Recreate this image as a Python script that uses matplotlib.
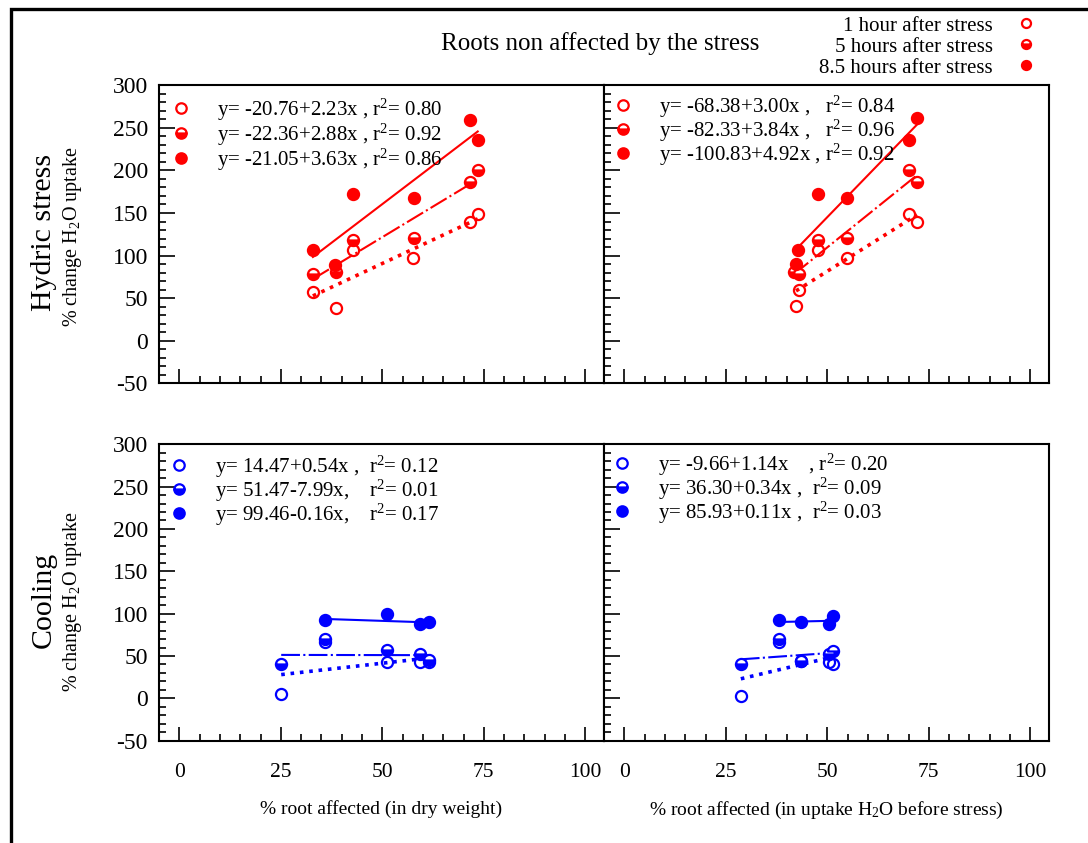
import matplotlib
matplotlib.use("Agg")
import matplotlib.pyplot as plt
import numpy as np
from matplotlib.lines import Line2D
from matplotlib.patches import Rectangle
from matplotlib.ticker import MultipleLocator

plt.rcParams['font.family'] = ['Liberation Serif', 'DejaVu Serif']
plt.rcParams['mathtext.fontset'] = 'custom'
plt.rcParams['mathtext.rm'] = 'Liberation Serif'
plt.rcParams['mathtext.it'] = 'Liberation Serif:italic'
plt.rcParams['mathtext.bf'] = 'Liberation Serif:bold'
plt.rcParams['axes.unicode_minus'] = False

# ---------------- data ----------------
series_names = ["1 hour after stress", "5 hours after stress", "8.5 hours after stress"]

# Hydric stress, x = % root affected (dry weight)
hyd_dw_x_1h = [32.9, 38.5, 42.9, 57.6, 71.5, 73.5]
hyd_dw_y_1h = [57.7, 38.6, 106.6, 97.2, 139.3, 148.7]
hyd_dw_x_5h = [32.9, 38.5, 42.9, 57.7, 71.5, 73.5]
hyd_dw_y_5h = [78.8, 80.3, 118.6, 120.6, 186.2, 200.6]
hyd_dw_x_85h = [32.9, 38.4, 42.9, 57.7, 71.5, 73.5]
hyd_dw_y_85h = [106.9, 88.5, 172.1, 167.4, 259.1, 235.4]
hyd_dw_intercepts = [-20.76, -22.36, -21.05]
hyd_dw_slopes = [2.23, 2.88, 3.63]
hyd_dw_labels = ["y= -20.76+2.23x , r$^{2}$= 0.80",
                 "y= -22.36+2.88x , r$^{2}$= 0.92",
                 "y= -21.05+3.63x , r$^{2}$= 0.86"]

# Hydric stress, x = % root affected (uptake H2O before stress)
hyd_up_x_1h = [43.0, 42.3, 47.8, 54.8, 70.1, 72.1]
hyd_up_y_1h = [60.1, 41.0, 106.6, 97.2, 148.7, 139.3]
hyd_up_x_5h = [41.7, 43.0, 47.8, 54.8, 70.1, 72.1]
hyd_up_y_5h = [80.8, 78.4, 118.6, 120.1, 200.6, 186.2]
hyd_up_x_85h = [42.8, 42.2, 47.8, 54.8, 70.1, 72.1]
hyd_up_y_85h = [106.1, 90.2, 172.1, 167.4, 235.4, 261.1]
hyd_up_intercepts = [-68.38, -82.33, -100.83]
hyd_up_slopes = [3.00, 3.84, 4.92]
hyd_up_labels = ["y= -68.38+3.00x ,   r$^{2}$= 0.84",
                 "y= -82.33+3.84x ,   r$^{2}$= 0.96",
                 "y= -100.83+4.92x , r$^{2}$= 0.92"]

# Cooling, x = % root affected (dry weight)
cool_dw_x_1h = [25.1, 36.0, 51.2, 59.2, 61.6]
cool_dw_y_1h = [4.7, 66.5, 42.5, 42.5, 42.5]
cool_dw_x_5h = [25.1, 36.0, 51.2, 59.2, 61.6]
cool_dw_y_5h = [40.1, 70.0, 56.7, 51.9, 45.2]
cool_dw_x_85h = [36.0, 51.2, 59.2, 61.6]
cool_dw_y_85h = [92.1, 99.2, 87.4, 89.7]
cool_dw_intercepts = [14.47, 51.47, 99.46]
cool_dw_slopes = [0.54, -0.008, -0.16]
cool_dw_labels = ["y= 14.47+0.54x ,  r$^{2}$= 0.12",
                  "y= 51.47-7.99x,    r$^{2}$= 0.01",
                  "y= 99.46-0.16x,    r$^{2}$= 0.17"]

# Cooling, x = % root affected (uptake H2O before stress)
cool_up_x_1h = [28.7, 38.0, 43.5, 50.4, 51.4]
cool_up_y_1h = [2.4, 66.1, 44.4, 42.5, 40.1]
cool_up_x_5h = [28.7, 38.0, 43.5, 50.4, 51.4]
cool_up_y_5h = [40.1, 70.0, 44.5, 52.0, 56.3]
cool_up_x_85h = [38.0, 43.5, 50.4, 51.4]
cool_up_y_85h = [92.1, 89.7, 87.4, 97.6]
cool_up_intercepts = [-9.66, 36.30, 85.93]
cool_up_slopes = [1.14, 0.34, 0.11]
cool_up_labels = ["y= -9.66+1.14x    , r$^{2}$= 0.20",
                  "y= 36.30+0.34x ,  r$^{2}$= 0.09",
                  "y= 85.93+0.11x ,  r$^{2}$= 0.03"]

x_ticks = [0, 25, 50, 75, 100]
y_ticks = [-50, 0, 50, 100, 150, 200, 250, 300]

title = "Roots non affected by the stress"
row_titles = ["Hydric stress", "Cooling"]
y_sub = "% change H$_2$O uptake"
x_titles = ["% root affected (in dry weight)",
            "% root affected (in uptake H$_2$O before stress)"]

RED = "#ff0000"
BLUE = "#0000ff"

# ---------------- figure ----------------
W, H = 1088, 843
fig = plt.figure(figsize=(W / 100, H / 100), dpi=100)

def fx(px):
    return px / W

def fy(py):
    return 1 - py / H

ax_left = [159, 604]
ax_w = 445
rows_top = [85.3, 444.2]
rows_h = [298.0, 296.5]

marker_styles = [dict(fillstyle='none'),
                 dict(fillstyle='bottom', markerfacecoloralt='white'),
                 dict(fillstyle='full')]
line_styles = [(0, (1, 1.6)), (0, (9, 1.6, 1, 1.6)), '-']
line_widths = [2.6, 1.5, 1.5]

panels = [
    [(hyd_dw_x_1h, hyd_dw_y_1h, hyd_dw_x_5h, hyd_dw_y_5h, hyd_dw_x_85h, hyd_dw_y_85h,
      hyd_dw_intercepts, hyd_dw_slopes, hyd_dw_labels),
     (hyd_up_x_1h, hyd_up_y_1h, hyd_up_x_5h, hyd_up_y_5h, hyd_up_x_85h, hyd_up_y_85h,
      hyd_up_intercepts, hyd_up_slopes, hyd_up_labels)],
    [(cool_dw_x_1h, cool_dw_y_1h, cool_dw_x_5h, cool_dw_y_5h, cool_dw_x_85h, cool_dw_y_85h,
      cool_dw_intercepts, cool_dw_slopes, cool_dw_labels),
     (cool_up_x_1h, cool_up_y_1h, cool_up_x_5h, cool_up_y_5h, cool_up_x_85h, cool_up_y_85h,
      cool_up_intercepts, cool_up_slopes, cool_up_labels)],
]
row_colors = [RED, BLUE]
leg_spacing = [[-0.06, -0.11], [-0.11, -0.11]]
leg_borderpad = [[0.55, 0.4], [0.45, 0.35]]

axes = [[None, None], [None, None]]
for r in range(2):
    for c in range(2):
        left = ax_left[c]
        top = rows_top[r]
        h = rows_h[r]
        ax = fig.add_axes([fx(left), fy(top + h), ax_w / W, h / H])
        axes[r][c] = ax
        col = row_colors[r]
        d = panels[r][c]
        xs = [d[0], d[2], d[4]]
        ys = [d[1], d[3], d[5]]
        icpts, slopes, labels = d[6], d[7], d[8]
        for k in range(3):
            xa = np.array(xs[k])
            xl = np.array([xa.min(), xa.max()])
            ax.plot(xl, icpts[k] + slopes[k] * xl, color=col, ls=line_styles[k],
                    lw=line_widths[k], dash_capstyle='butt', zorder=2)
        for k in range(3):
            ax.plot(xs[k], ys[k], ls='none', marker='o', ms=8, mew=1.6,
                    color=col, mec=col, mfc=col, zorder=3, **marker_styles[k])
        handles = [Line2D([], [], ls='none', marker='o', ms=7.5, mew=1.6, color=col,
                          mec=col, mfc=col, **marker_styles[k]) for k in range(3)]
        ax.legend(handles, labels, loc='upper left', bbox_to_anchor=(0, 1),
                  borderaxespad=0, borderpad=leg_borderpad[r][c], handlelength=1.0,
                  handletextpad=1.25, labelspacing=leg_spacing[r][c],
                  frameon=False, fontsize=15)

        ax.set_xlim(-5, 104.6)
        ax.set_ylim(-50, 300)
        ax.xaxis.set_major_locator(MultipleLocator(25))
        ax.xaxis.set_minor_locator(MultipleLocator(5))
        ax.yaxis.set_major_locator(MultipleLocator(50))
        ax.yaxis.set_minor_locator(MultipleLocator(10))
        ax.set_xticks(x_ticks)
        ax.set_yticks(y_ticks)
        ax.tick_params(axis='x', which='major', direction='in', length=10, width=1.2,
                       labelsize=15.5, pad=16, top=False)
        ax.tick_params(axis='x', which='minor', direction='in', length=5, width=1.2, top=False)
        ax.tick_params(axis='y', which='major', direction='in', length=11.5, width=1.2,
                       labelsize=17, pad=8, right=False)
        ax.tick_params(axis='y', which='minor', direction='in', length=5, width=1.2, right=False)
        for s in ax.spines.values():
            s.set_linewidth(1.5)
        if r == 0:
            ax.tick_params(axis='x', labelbottom=False)
        else:
            ax.set_xlabel(x_titles[c], fontsize=14, labelpad=13)
        if c == 1:
            ax.tick_params(axis='y', labelleft=False)

# row titles
fig.text(fx(44), fy(232), row_titles[0], rotation=90, ha='center', va='center', fontsize=21.5)
fig.text(fx(72), fy(237), y_sub, rotation=90, ha='center', va='center', fontsize=14.5)
fig.text(fx(44), fy(600), row_titles[1], rotation=90, ha='center', va='center', fontsize=21.5)
fig.text(fx(72), fy(602), y_sub, rotation=90, ha='center', va='center', fontsize=14.5)

# title
fig.text(fx(600), fy(44), title, ha='center', va='center', fontsize=18)

# top legend
top_handles = [Line2D([], [], ls='none', marker='o', ms=6.5, mew=1.6, color=RED,
                      mec=RED, mfc=RED, **marker_styles[k]) for k in range(3)]
fig.legend(top_handles, series_names, loc='upper right',
           bbox_to_anchor=(fx(1036.4), fy(16)), borderaxespad=0, borderpad=0,
           markerfirst=False, handlelength=1.0, handletextpad=1.09,
           labelspacing=0.07, frameon=False, fontsize=15)

# figure border (clipped on right/bottom)
fig.patches.append(Rectangle((fx(10.5), -0.1), 1.2, fy(9.5) + 0.1, transform=fig.transFigure,
                             fill=False, lw=2.4, ec='black'))

fig.savefig("out.png", dpi=100)
